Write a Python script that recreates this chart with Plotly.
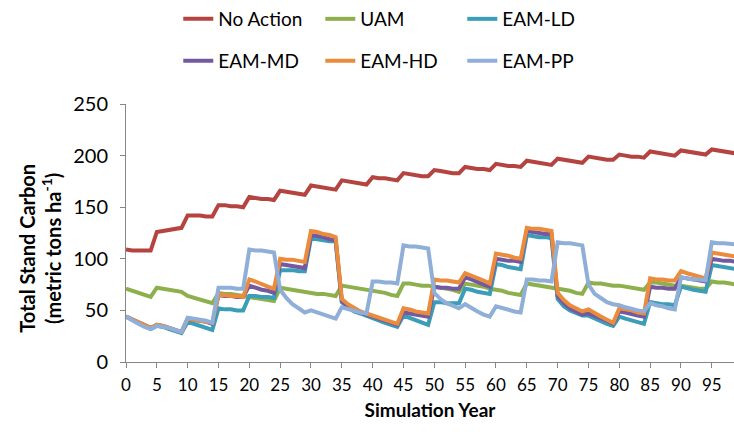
import plotly.graph_objects as go

# Simulation years 0..99
years = list(range(100))

no_action = [
    109, 108, 108, 108, 108, 126, 127, 128, 129, 130,
    142, 142, 142, 141, 141, 152, 152, 151, 151, 150,
    160, 159, 158, 158, 157, 166, 165, 164, 163, 162,
    171, 170, 169, 168, 167, 176, 175, 174, 173, 172,
    179, 178, 178, 177, 176, 183, 182, 181, 180, 180,
    186, 185, 184, 183, 183, 189, 188, 187, 187, 186,
    192, 191, 190, 190, 189, 195, 194, 193, 192, 191,
    197, 196, 195, 194, 193, 199, 198, 197, 196, 196,
    201, 200, 199, 199, 198, 204, 203, 202, 201, 200,
    205, 204, 203, 202, 201, 206, 205, 204, 203, 202,
]

uam = [
    71, 69, 67, 65, 63, 72, 71, 70, 69, 68,
    64, 62, 60, 59, 57, 67, 66, 66, 65, 64,
    63, 62, 61, 60, 59, 72, 71, 70, 69, 68,
    67, 66, 66, 65, 64, 74, 73, 72, 71, 70,
    69, 68, 67, 65, 64, 76, 76, 75, 74, 74,
    73, 72, 71, 70, 68, 76, 75, 74, 73, 71,
    70, 69, 67, 66, 65, 76, 75, 74, 73, 72,
    71, 70, 69, 67, 66, 77, 76, 76, 75, 74,
    74, 73, 72, 71, 70, 77, 77, 76, 75, 74,
    74, 73, 72, 71, 71, 78, 77, 77, 76, 75,
]

eam_ld = [
    44, 41, 38, 35, 32, 35, 34, 32, 30, 28,
    39, 37, 35, 33, 31, 52, 51, 51, 50, 50,
    64, 64, 63, 63, 62, 89, 89, 89, 88, 88,
    120, 119, 118, 117, 117, 58, 53, 49, 47, 45,
    42, 40, 38, 36, 34, 45, 43, 40, 38, 36,
    58, 58, 57, 57, 57, 71, 70, 68, 67, 66,
    95, 94, 92, 91, 90, 123, 122, 121, 121, 120,
    61, 54, 50, 47, 45, 45, 42, 40, 37, 35,
    44, 42, 40, 39, 37, 58, 57, 56, 56, 55,
    73, 71, 70, 69, 68, 94, 93, 92, 91, 90,
]

eam_md = [
    44, 41, 38, 35, 33, 36, 35, 33, 31, 29,
    42, 41, 40, 39, 37, 65, 64, 64, 63, 63,
    74, 72, 70, 69, 67, 95, 94, 93, 92, 91,
    123, 122, 121, 119, 118, 59, 54, 51, 48, 46,
    44, 42, 40, 38, 36, 48, 47, 46, 45, 44,
    73, 72, 72, 71, 71, 82, 80, 77, 75, 73,
    100, 99, 98, 98, 97, 127, 126, 125, 124, 124,
    64, 57, 52, 49, 46, 47, 45, 42, 40, 37,
    49, 48, 46, 45, 44, 73, 72, 72, 71, 71,
    82, 81, 80, 79, 78, 100, 99, 98, 98, 97,
]

eam_hd = [
    44, 41, 38, 35, 33, 36, 35, 33, 31, 29,
    42, 41, 40, 39, 38, 65, 65, 64, 64, 63,
    80, 78, 75, 73, 71, 100, 99, 99, 98, 97,
    127, 126, 124, 123, 121, 61, 56, 52, 49, 47,
    45, 43, 41, 39, 37, 52, 51, 49, 48, 47,
    80, 79, 79, 78, 77, 86, 84, 81, 79, 76,
    105, 104, 103, 101, 100, 130, 129, 129, 128, 127,
    67, 60, 55, 52, 49, 51, 47, 44, 41, 38,
    52, 51, 50, 48, 47, 81, 80, 80, 79, 79,
    88, 86, 84, 82, 81, 106, 105, 104, 103, 102,
]

eam_pp = [
    44, 40, 37, 34, 32, 35, 34, 33, 31, 29,
    43, 42, 41, 40, 38, 72, 72, 72, 71, 71,
    109, 108, 108, 107, 106, 70, 62, 56, 52, 48,
    50, 48, 46, 44, 42, 53, 51, 50, 48, 47,
    78, 78, 77, 77, 76, 113, 112, 112, 111, 110,
    67, 61, 57, 54, 52, 56, 52, 49, 46, 44,
    54, 52, 51, 49, 48, 80, 80, 79, 79, 78,
    116, 115, 115, 114, 113, 75, 66, 62, 58, 56,
    55, 53, 51, 50, 49, 57, 55, 54, 52, 51,
    82, 81, 80, 80, 79, 116, 115, 115, 114, 114,
]

x_ticks = list(range(0, 100, 5))
y_ticks = [0, 50, 100, 150, 200, 250]

series = [
    ("No Action", no_action, "#B5433F", "legend"),
    ("UAM", uam, "#8DB04C", "legend"),
    ("EAM-LD", eam_ld, "#3B9DB8", "legend"),
    ("EAM-MD", eam_md, "#7459A0", "legend2"),
    ("EAM-HD", eam_hd, "#EB8B3C", "legend2"),
    ("EAM-PP", eam_pp, "#8FAED8", "legend2"),
]

FONT = "Lato"
AXIS_GREY = "#868686"

fig = go.Figure()
for name, vals, color, leg in series:
    fig.add_trace(go.Scatter(
        x=years, y=vals, name=name, mode="lines",
        line=dict(color=color, width=4),
        legend=leg,
    ))

legend_common = dict(
    orientation="h",
    xref="paper", yref="paper",
    xanchor="left", yanchor="middle",
    font=dict(family=FONT, size=19, color="#000"),
    entrywidthmode="pixels", entrywidth=97,
    bgcolor="rgba(0,0,0,0)",
    itemclick=False,
)

fig.update_layout(
    width=734, height=434,
    margin=dict(l=126, r=0, t=103, b=72),
    paper_bgcolor="white", plot_bgcolor="white",
    font=dict(family=FONT, size=17, color="#000"),
    showlegend=True,
    legend=dict(x=0.086, y=1.33, **legend_common),
    legend2=dict(x=0.086, y=1.163, **legend_common),
    xaxis=dict(
        range=[0, 98.6],
        tickmode="array", tickvals=x_ticks,
        ticktext=[str(v) for v in x_ticks],
        showline=True, linecolor=AXIS_GREY, linewidth=1,
        ticks="outside", ticklen=5, tickcolor=AXIS_GREY,
        showgrid=False, zeroline=False,
        tickfont=dict(family=FONT, size=17),
        ticklabelstandoff=3,
        title=dict(text="<b>Simulation Year</b>",
                   font=dict(family=FONT, size=19), standoff=9),
    ),
    yaxis=dict(
        range=[0, 250],
        tickmode="array", tickvals=y_ticks,
        showline=True, linecolor=AXIS_GREY, linewidth=1,
        ticks="outside", ticklen=5, tickcolor=AXIS_GREY,
        showgrid=False, zeroline=False,
        tickfont=dict(family=FONT, size=20),
        ticklabelstandoff=8,
    ),
    annotations=[dict(
        text="<b>Total Stand Carbon<br>(metric tons ha<sup>-1</sup>)</b>",
        xref="paper", yref="paper",
        x=-0.141, y=0.44, xanchor="center", yanchor="middle",
        textangle=-90, showarrow=False,
        font=dict(family=FONT, size=20, color="#000"),
    )],
)

fig.write_html("out.html")
